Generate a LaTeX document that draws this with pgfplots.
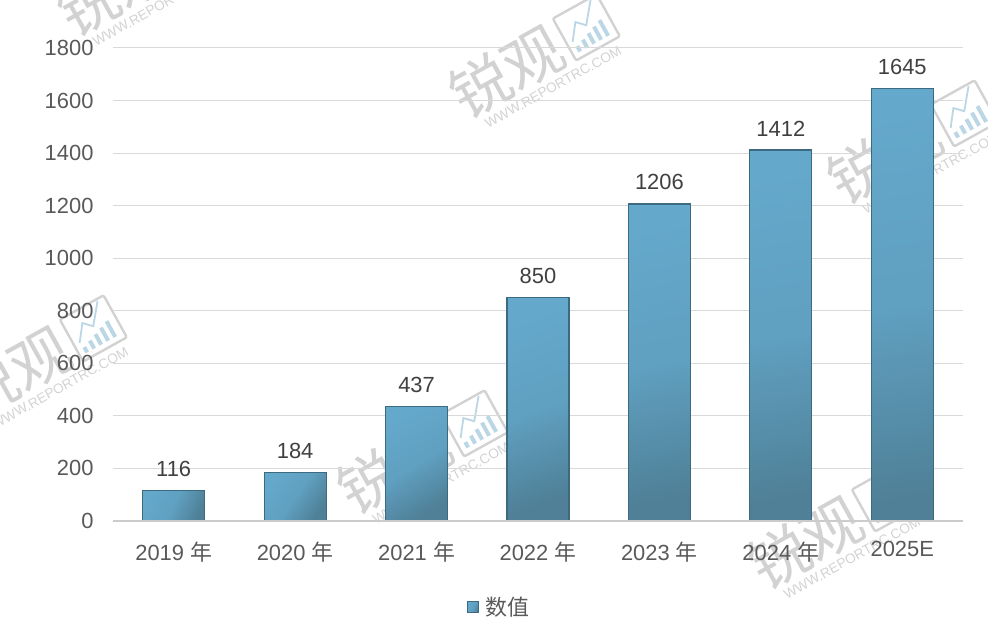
\documentclass[border=0pt]{standalone}
\usepackage{pgfplots}
\pgfplotsset{compat=1.18}
\usepackage{fontspec}
\setmainfont{Liberation Sans}
\newfontfamily\cjk{Noto Sans CJK SC}
\definecolor{wm}{HTML}{D2D2D2}
\definecolor{wmb}{HTML}{BBD6E4}
\definecolor{barA}{HTML}{64A8CB}
\definecolor{barB}{HTML}{4F8097}
\definecolor{barE}{HTML}{3C6A80}
\newcommand{\wm}[2]{%
 \begin{scope}[shift={({(#1-113)*1bp},{(521-#2)*1bp})},rotate=29,transform shape]
  \node[text=wm,inner sep=0pt] at (-30bp,0bp) {\fontsize{60}{60}\selectfont\cjk 锐观};
  \draw[wm,line width=2.4bp,rounded corners=2bp] (36bp,-24bp) rectangle (86bp,24bp);
  \draw[wmb,line width=1.8bp] (42bp,-6bp) -- (54bp,10bp) -- (62bp,2bp) -- (78bp,22bp);
  \foreach \a/\h in {44/6,52/9,60/12,68/15,76/18}{\draw[wmb,line width=4bp] (\a bp,-18bp) -- (\a bp,{(-18+\h)*1bp});}
  \node[text=wm,inner sep=0pt] at (3bp,-36bp) {\fontsize{13.7}{14}\selectfont WWW.REPORTRC.COM};
 \end{scope}}
\pgfplotsset{onebar/.style={draw=barE,line width=1.2bp,shade,top color=barA,bottom color=barB,middle color=barA!80!barB,shading angle=#1}}
\begin{document}
\begin{tikzpicture}
\path[use as bounding box] (-113bp,-117bp) rectangle (875bp,521bp);
\begin{scope}
\clip (-113bp,-117bp) rectangle (875bp,521bp);
\wm{141}{-25}
\wm{533}{57}
\wm{911}{143}
\wm{40}{358}
\wm{421}{453}
\wm{832}{528}
\end{scope}
\begin{axis}[
  at={(0,0)},anchor=south west,
  scale only axis,width=850bp,height=473bp,
  xmin=-0.5,xmax=6.5,ymin=0,ymax=1800,
  ybar,bar width=62bp,bar shift=0pt,
  axis y line*=left,axis x line*=bottom,
  axis line style={draw=none,-},
  ymajorgrids,
  grid style={color=black!15,line width=1bp},
  ytick={0,200,400,600,800,1000,1200,1400,1600,1800},
  xtick={0,1,2,3,4,5,6},
  xticklabels={{2019 {\cjk 年}},{2020 {\cjk 年}},{2021 {\cjk 年}},{2022 {\cjk 年}},{2023 {\cjk 年}},{2024 {\cjk 年}},{2025E}},
  major tick length=0pt,
  /pgf/number format/assume math mode=true,
  /pgf/number format/1000 sep={},
  yticklabel style={text=black!65,font=\fontsize{22}{24}\selectfont,xshift=-16bp},
  xticklabel style={text=black!65,font=\fontsize{22}{24}\selectfont,yshift=-17bp},
  nodes near coords,
  every node near coord/.append style={text=black!75,font=\fontsize{22}{24}\selectfont,yshift=10bp,/pgf/number format/assume math mode=true,/pgf/number format/1000 sep={}},
  clip=false,
  legend style={at={(0.4165,-0.182)},anchor=west,draw=none,fill=none,font=\fontsize{22}{24}\selectfont\cjk,text=black!65,
    legend cell align=left,inner sep=0pt},
  legend image code/.code={\draw[draw=barE,fill=barA,line width=0.8bp] (0bp,-5.5bp) rectangle (11bp,5.5bp);\path (15bp,0bp);},
]
\addplot[onebar=65] coordinates {(0,116)};
\addlegendentry{数值}
\addplot[onebar=55,forget plot] coordinates {(1,184)};
\addplot[onebar=32,forget plot] coordinates {(2,437)};
\addplot[onebar=20,forget plot] coordinates {(3,850)};
\addplot[onebar=12,forget plot] coordinates {(4,1206)};
\addplot[onebar=10,forget plot] coordinates {(5,1412)};
\addplot[onebar=8,forget plot] coordinates {(6,1645)};
\draw[color=black!20,line width=1.4bp] (axis cs:-0.5,0) -- (axis cs:6.5,0);
\end{axis}
\end{tikzpicture}
\end{document}
